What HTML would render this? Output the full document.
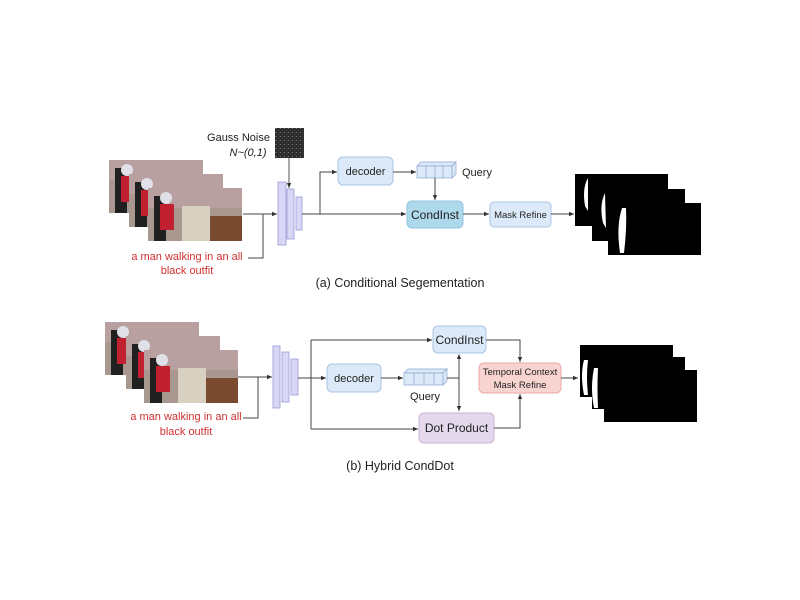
<!DOCTYPE html>
<html><head><meta charset="utf-8"><style>
html,body{margin:0;padding:0;background:#fff;width:800px;height:600px;overflow:hidden}
svg{display:block}
text{font-family:"Liberation Sans",sans-serif}
</style></head><body>
<svg width="800" height="600" viewBox="0 0 800 600" xmlns="http://www.w3.org/2000/svg">
<defs>
<marker id="a" markerWidth="6" markerHeight="6" refX="5" refY="3" orient="auto"><path d="M0,0.8 L5,3 L0,5.2z" fill="#333"/></marker>
<marker id="as" markerWidth="6" markerHeight="6" refX="1" refY="3" orient="auto"><path d="M5,0.8 L0,3 L5,5.2z" fill="#333"/></marker>
<pattern id="nz" width="4" height="4" patternUnits="userSpaceOnUse"><rect width="4" height="4" fill="#2a2a2a"/><rect x="0" y="0" width="1" height="1" fill="#777"/><rect x="2" y="2" width="1" height="1" fill="#555"/><rect x="3" y="0" width="1" height="1" fill="#444"/></pattern>
<g id="photo">
<rect width="94" height="53" fill="#a89890"/>
<rect x="0" y="0" width="94" height="20" fill="#b8a0a0"/>
<rect x="6" y="8" width="12" height="45" fill="#202020"/>
<rect x="12" y="16" width="14" height="26" fill="#c02030"/>
<rect x="34" y="18" width="28" height="35" fill="#d8d0c0"/>
<rect x="62" y="28" width="32" height="25" fill="#7a4a30"/>
<circle cx="18" cy="10" r="6" fill="#e0e0e8"/>
</g>
<g id="mask"><rect width="93" height="52" fill="#000"/></g>
</defs>

<!-- ===== (a) ===== -->
<use href="#photo" x="109" y="160"/>
<use href="#photo" x="129" y="174"/>
<use href="#photo" x="148" y="188"/>
<text x="270" y="141" font-size="11" text-anchor="end" fill="#222">Gauss Noise</text>
<text x="248" y="156" font-size="11" text-anchor="middle" font-style="italic" fill="#222">N~(0,1)</text>
<rect x="275" y="128" width="29" height="30" fill="url(#nz)"/>
<line x1="289" y1="158" x2="289" y2="188" stroke="#555" marker-end="url(#a)"/>
<rect x="278" y="182" width="8" height="63" fill="#d8d8f6" stroke="#9a9ad8" stroke-width="0.8"/>
<rect x="287" y="189" width="7" height="50" fill="#d8d8f6" stroke="#9a9ad8" stroke-width="0.8"/>
<rect x="296" y="197" width="6" height="33" fill="#d8d8f6" stroke="#9a9ad8" stroke-width="0.8"/>
<line x1="243" y1="214" x2="277" y2="214" stroke="#444" marker-end="url(#a)"/>
<polyline points="248,258 263,258 263,214" fill="none" stroke="#444"/>
<text x="187" y="260" font-size="11" text-anchor="middle" fill="#d03030">a man walking in an all</text>
<text x="187" y="274" font-size="11" text-anchor="middle" fill="#d03030">black outfit</text>
<line x1="302" y1="214" x2="406" y2="214" stroke="#444" marker-end="url(#a)"/>
<polyline points="320,214 320,172 337,172" fill="none" stroke="#444" marker-end="url(#a)"/>
<rect x="338" y="157" width="55" height="28" rx="5" fill="#dce9f8" stroke="#a8c4e4"/>
<text x="365.5" y="175" font-size="11" text-anchor="middle" fill="#222">decoder</text>
<line x1="393" y1="172" x2="416" y2="172" stroke="#444" marker-end="url(#a)"/>
<g stroke="#8aa8d0" stroke-width="0.7" fill="#dce9f8">
<polygon points="417,166 421,162 456,162 452,166"/><polygon points="452,166 456,162 456,174 452,178"/>
<rect x="417" y="166" width="35" height="12"/>
<line x1="426" y1="166" x2="426" y2="178"/><line x1="435" y1="166" x2="435" y2="178"/><line x1="443" y1="166" x2="443" y2="178"/>
</g>
<text x="462" y="176" font-size="11" fill="#222">Query</text>
<line x1="435" y1="178" x2="435" y2="200" stroke="#444" marker-end="url(#a)"/>
<rect x="407" y="201" width="56" height="27" rx="5" fill="#aed8ec" stroke="#90c4e0"/>
<text x="435" y="219" font-size="12" text-anchor="middle" fill="#222">CondInst</text>
<line x1="463" y1="214" x2="489" y2="214" stroke="#444" marker-end="url(#a)"/>
<rect x="490" y="202" width="61" height="25" rx="4" fill="#dce9f8" stroke="#a8c4e4"/>
<text x="520.5" y="218" font-size="9.5" text-anchor="middle" fill="#222">Mask Refine</text>
<line x1="551" y1="214" x2="574" y2="214" stroke="#444" marker-end="url(#a)"/>
<use href="#mask" x="575" y="174"/>
<path d="M588,178 q-6,10 -3,28 l3,5 z" fill="#fff"/>
<use href="#mask" x="592" y="189"/>
<path d="M605,193 q-6,12 -2,30 l3,5 z" fill="#fff"/>
<use href="#mask" x="608" y="203"/>
<path d="M622,208 q-6,18 -2,45 l4,0 q3,-25 2,-45 z" fill="#fff"/>
<text x="400" y="287" font-size="12.5" text-anchor="middle" fill="#222">(a) Conditional Segementation</text>

<!-- ===== (b) ===== -->
<use href="#photo" x="105" y="322"/>
<use href="#photo" x="126" y="336"/>
<use href="#photo" x="144" y="350"/>
<rect x="273" y="346" width="7" height="62" fill="#d8d8f6" stroke="#9a9ad8" stroke-width="0.8"/>
<rect x="282" y="352" width="7" height="50" fill="#d8d8f6" stroke="#9a9ad8" stroke-width="0.8"/>
<rect x="291" y="359" width="7" height="36" fill="#d8d8f6" stroke="#9a9ad8" stroke-width="0.8"/>
<line x1="238" y1="377" x2="272" y2="377" stroke="#444" marker-end="url(#a)"/>
<polyline points="243,418 258,418 258,377" fill="none" stroke="#444"/>
<text x="186" y="420" font-size="11" text-anchor="middle" fill="#d03030">a man walking in an all</text>
<text x="186" y="435" font-size="11" text-anchor="middle" fill="#d03030">black outfit</text>
<line x1="298" y1="378" x2="326" y2="378" stroke="#444" marker-end="url(#a)"/>
<polyline points="311,340 311,429" fill="none" stroke="#444"/>
<line x1="311" y1="340" x2="432" y2="340" stroke="#444" marker-end="url(#a)"/>
<line x1="311" y1="429" x2="418" y2="429" stroke="#444" marker-end="url(#a)"/>
<rect x="327" y="364" width="54" height="28" rx="5" fill="#dce9f8" stroke="#a8c4e4"/>
<text x="354" y="382" font-size="11" text-anchor="middle" fill="#222">decoder</text>
<line x1="381" y1="378" x2="403" y2="378" stroke="#444" marker-end="url(#a)"/>
<g stroke="#8aa8d0" stroke-width="0.7" fill="#dce9f8">
<polygon points="404,373 408,369 447,369 443,373"/><polygon points="443,373 447,369 447,381 443,385"/>
<rect x="404" y="373" width="39" height="12"/>
<line x1="414" y1="373" x2="414" y2="385"/><line x1="424" y1="373" x2="424" y2="385"/><line x1="434" y1="373" x2="434" y2="385"/>
</g>
<text x="425" y="400" font-size="11" text-anchor="middle" fill="#222">Query</text>
<line x1="447" y1="378" x2="459" y2="378" stroke="#444"/>
<line x1="459" y1="355" x2="459" y2="411" stroke="#444" marker-start="url(#as)" marker-end="url(#a)"/>
<rect x="433" y="326" width="53" height="27" rx="5" fill="#dce9f8" stroke="#a8c4e4"/>
<text x="459.5" y="344" font-size="12" text-anchor="middle" fill="#222">CondInst</text>
<rect x="419" y="413" width="75" height="30" rx="5" fill="#e4d8ec" stroke="#c8b4d8"/>
<text x="456.5" y="432" font-size="12" text-anchor="middle" fill="#222">Dot Product</text>
<polyline points="486,340 520,340 520,362" fill="none" stroke="#444" marker-end="url(#a)"/>
<polyline points="494,428 520,428 520,394" fill="none" stroke="#444" marker-end="url(#a)"/>
<rect x="479" y="363" width="82" height="30" rx="5" fill="#f8d4d0" stroke="#e8aaa4"/>
<text x="520" y="375" font-size="9.5" text-anchor="middle" fill="#222">Temporal Context</text>
<text x="520" y="388" font-size="9.5" text-anchor="middle" fill="#222">Mask Refine</text>
<line x1="561" y1="378" x2="578" y2="378" stroke="#444" marker-end="url(#a)"/>
<use href="#mask" x="580" y="345"/>
<path d="M584,360 q-4,15 0,35 l4,0 q-2,-20 0,-35 z" fill="#fff"/>
<use href="#mask" x="592" y="357"/>
<path d="M594,368 q-4,20 0,40 l4,0 q-1,-20 0,-40 z" fill="#fff"/>
<use href="#mask" x="604" y="370"/>
<text x="400" y="470" font-size="12.5" text-anchor="middle" fill="#222">(b) Hybrid CondDot</text>
</svg>
</body></html>
